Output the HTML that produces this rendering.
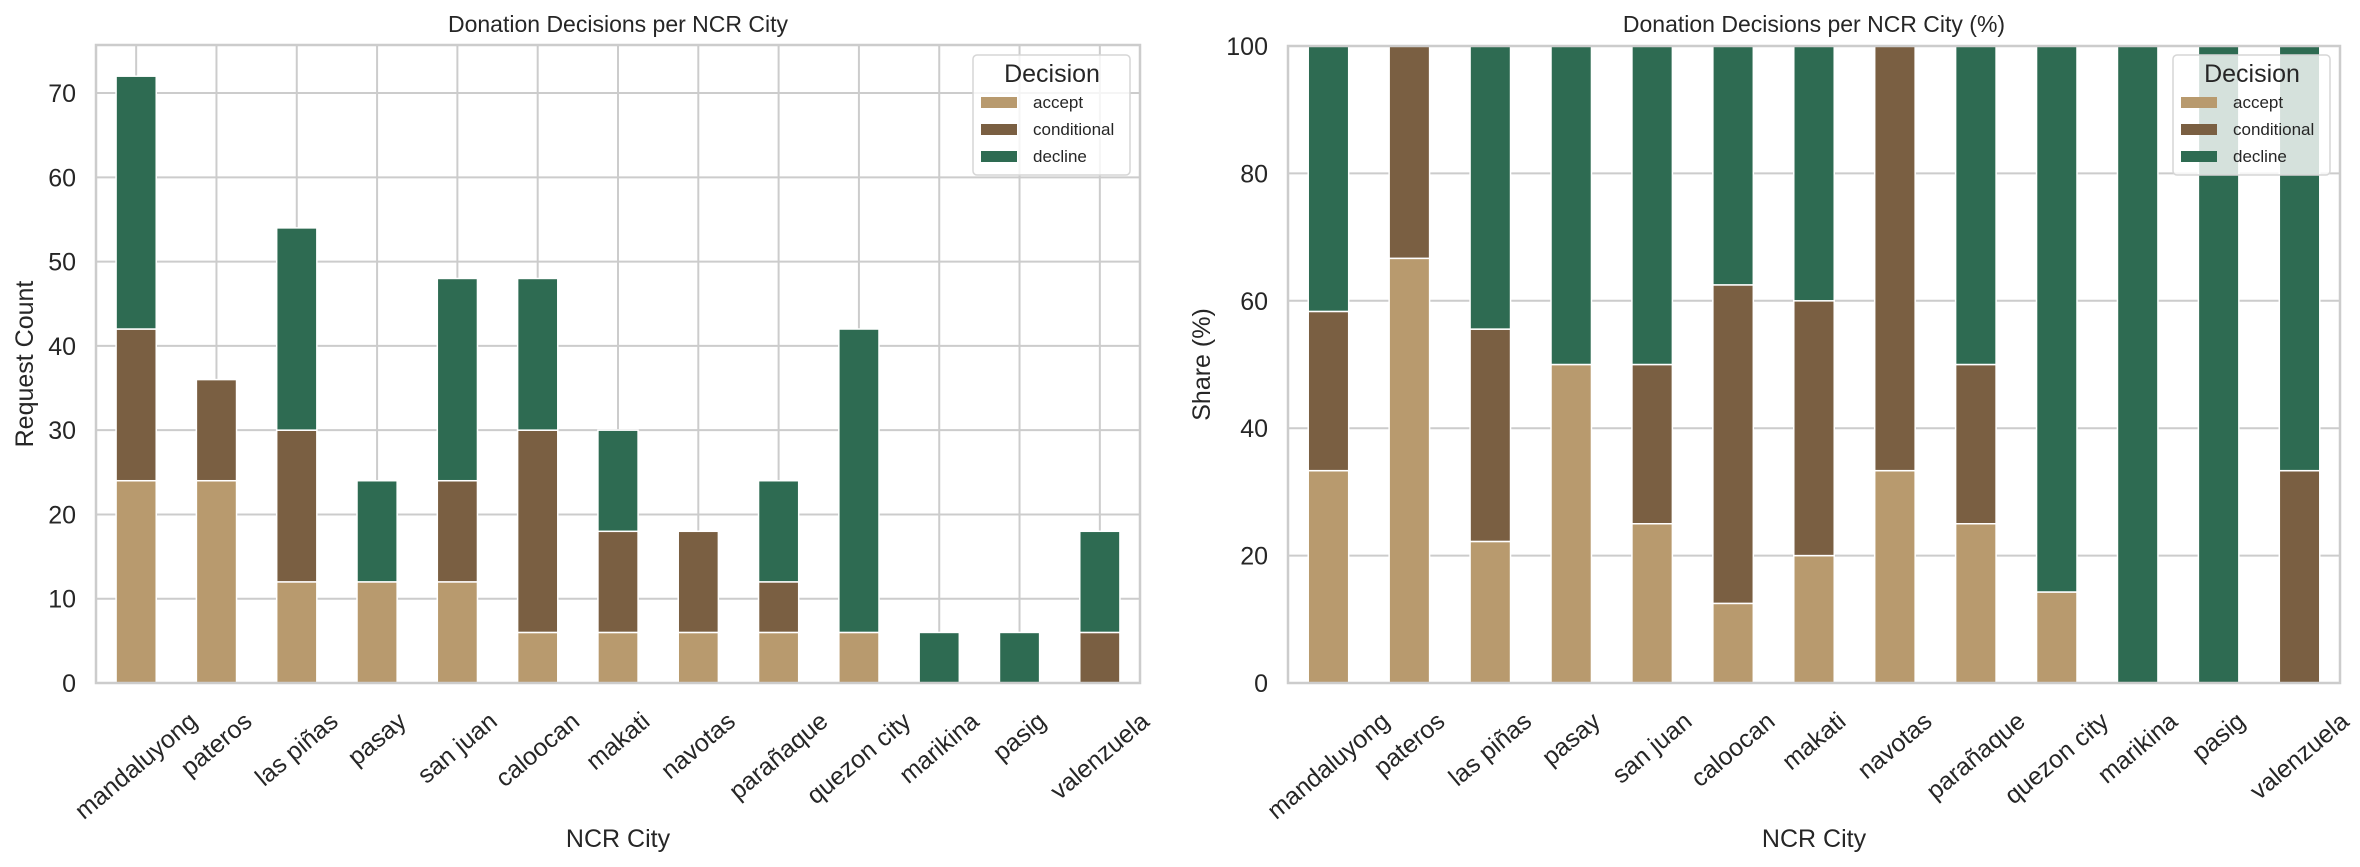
<!DOCTYPE html>
<html><head><meta charset="utf-8"><style>
html,body{margin:0;padding:0;background:#fff}
svg{display:block;font-family:"Liberation Sans",Arial,sans-serif}
</style></head><body>
<svg id="chart" width="2360" height="867" viewBox="0 0 2360 867" xmlns="http://www.w3.org/2000/svg"></svg>
<script>
const cities = ["mandaluyong","pateros","las piñas","pasay","san juan","caloocan","makati","navotas","parañaque","quezon city","marikina","pasig","valenzuela"];
const acceptCounts = [24,24,12,12,12,6,6,6,6,6,0,0,0];
const conditionalCounts = [18,12,18,0,12,24,12,12,6,0,0,0,6];
const declineCounts = [30,0,24,12,24,18,12,0,12,36,6,6,12];
const leftTicks = [0,10,20,30,40,50,60,70];
const rightTicks = [0,20,40,60,80,100];
const seriesNames = ["accept","conditional","decline"];
const colors = ["#b89a6e","#7a5f42","#2e6b52"];

const NS="http://www.w3.org/2000/svg";
const svg=document.getElementById('chart');
function el(tag,attrs,parent){const e=document.createElementNS(NS,tag);for(const k in attrs)e.setAttribute(k,attrs[k]);(parent||svg).appendChild(e);return e;}

function drawPanel(cfg){
  const g=el('g',{});
  
  
  const {x0,x1,y0,y1,ymax}=cfg;
  const n=cities.length, step=(x1-x0)/n, bw=step*0.5;
  const X=i=>x0+step*(i+0.5);
  const Y=v=>y0-(v/ymax)*(y0-y1);
  cfg.ticks.forEach(t=>{
    const l=el('line',{x1:x0,x2:x1,y1:Y(t),y2:Y(t),stroke:'#cccccc','stroke-width':2},g);
    
    
    const tx=el('text',{x:x0-20,y:Y(t)+9,'text-anchor':'end','font-size':25,fill:'#262626'},g);
    tx.textContent=t;
    
    
  });
  if(cfg.vgrid){
    cities.forEach((c,i)=>{
      const l=el('line',{x1:X(i),x2:X(i),y1:y1,y2:y0,stroke:'#cccccc','stroke-width':2},g);
      
      
    });
  }
  cities.forEach((c,i)=>{
    const vals=cfg.values(i);
    let base=0;
    vals.forEach((v,s)=>{
      if(v<=0)return;
      const r=el('rect',{x:X(i)-bw/2,y:Y(base+v),width:bw,height:Y(base)-Y(base+v),fill:colors[s],stroke:'#ffffff','stroke-width':1.5},g);
      
      
      base+=v;
    });
  });
  const fr=el('rect',{x:x0,y:y1,width:x1-x0,height:y0-y1,fill:'none',stroke:'#cccccc','stroke-width':2.5},g);
  
  
  cities.forEach((c,i)=>{
    const t=el('text',{x:0,y:0,'text-anchor':'middle','font-size':25,fill:'#262626'},g);
    t.textContent=c;
    
    
    const b=t.getBBox();
    const a=40*Math.PI/180;
    const hh=(b.width*Math.sin(a)+b.height*Math.cos(a))/2;
    const cy=b.y+b.height/2;
    t.setAttribute('transform',`translate(${X(i)},${707+hh}) rotate(-40) translate(0,${-cy})`);
  });
  const title=el('text',{x:(x0+x1)/2,y:32,'text-anchor':'middle','font-size':23,fill:'#262626'},g);
  title.textContent=cfg.title;
  
  
  const xl=el('text',{x:(x0+x1)/2,y:847,'text-anchor':'middle','font-size':25,fill:'#262626'},g);
  xl.textContent='NCR City';
  
  
  const yl=el('text',{x:0,y:0,'text-anchor':'middle','font-size':25,fill:'#262626',transform:`translate(${cfg.ylabelX},${(y0+y1)/2}) rotate(-90)`},g);
  yl.textContent=cfg.ylabel;
  
  
  const lx=x1-167, ly=55;
  const lg=el('g',{},g);
  
  
  el('rect',{x:lx,y:ly,width:157,height:120,rx:4,fill:'#ffffff','fill-opacity':0.8,stroke:'#d6d6d6','stroke-width':1.5},lg);
  const lt=el('text',{x:lx+79,y:ly+27,'text-anchor':'middle','font-size':25,fill:'#262626'},lg);
  lt.textContent='Decision';
  
  
  seriesNames.forEach((s,k)=>{
    const ey=ly+47+k*27;
    const sw=el('rect',{x:lx+8,y:ey-5,width:36,height:11,fill:colors[k]},lg);
    
    
    const et=el('text',{x:lx+60,y:ey+6,'font-size':17,fill:'#262626'},lg);
    et.textContent=s;
    
    
  });
}

drawPanel({name:'count-chart',x0:96,x1:1140,y0:683,y1:45,ymax:75.7,ticks:leftTicks,vgrid:true,
  title:'Donation Decisions per NCR City',ylabel:'Request Count',ylabelX:33,
  values:i=>[acceptCounts[i],conditionalCounts[i],declineCounts[i]]});
drawPanel({name:'share-chart',x0:1288,x1:2340,y0:683,y1:46,ymax:100,ticks:rightTicks,vgrid:false,
  title:'Donation Decisions per NCR City (%)',ylabel:'Share (%)',ylabelX:1210,
  values:i=>{const t=acceptCounts[i]+conditionalCounts[i]+declineCounts[i];
    return [acceptCounts[i],conditionalCounts[i],declineCounts[i]].map(v=>t?v/t*100:0);}});
</script>
</body></html>
